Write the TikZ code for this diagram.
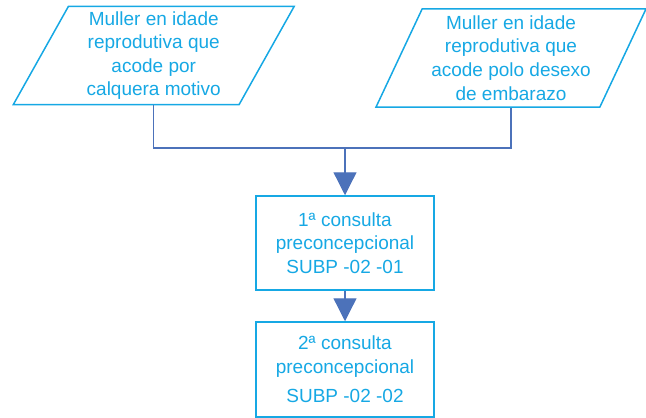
\documentclass[tikz,border=0pt]{standalone}
\usepackage{fontspec}
\setmainfont{Liberation Sans}
\usetikzlibrary{shapes.geometric,arrows.meta}
\definecolor{txtblue}{RGB}{22,168,228}
\definecolor{lineblue}{RGB}{76,114,186}
\begin{document}
\begin{tikzpicture}[x=0.5pt,y=-0.5pt,
  every node/.style={font=\fontsize{9.5}{11.8}\selectfont,text=txtblue,align=center},
  io/.style={draw=txtblue,line width=0.75pt,trapezium,trapezium left angle=64,
    trapezium right angle=116,trapezium stretches,minimum height=49pt,inner sep=0pt},
  proc/.style={draw=txtblue,line width=0.75pt,minimum width=89pt,inner sep=0pt},
  flow/.style={draw=lineblue,line width=0.65pt},
  tip/.style={flow,-{Triangle[width=11.5pt,length=11.5pt]}}]
\useasboundingbox (0,0) rectangle (646,417);
% the two entry points
\node[io,minimum width=140.5pt] (any) at (153.75,55.5)
  {Muller en idade\\reprodutiva que\\acode por\\calquera motivo};
\node[io,minimum width=135pt] (wish) at (511,58)
  {Muller en idade\\reprodutiva que\\acode polo desexo\\de embarazo};
% consultations
\node[proc,minimum height=47pt] (first) at (345,243)
  {1ª consulta\\preconcepcional\\SUBP -02 -01};
\node[proc,minimum height=47.5pt] (second) at (345,369.5)
  {2ª consulta\\preconcepcional\\[3pt]SUBP -02 -02};
% connectors
\coordinate (join) at (first.north |- 0,148);
\draw[flow] (any.south) |- (join);
\draw[flow] (wish.south) |- (join);
\draw[tip] (join) -- (first.north);
\draw[tip] (first.south) -- (second.north);
\end{tikzpicture}
\end{document}
